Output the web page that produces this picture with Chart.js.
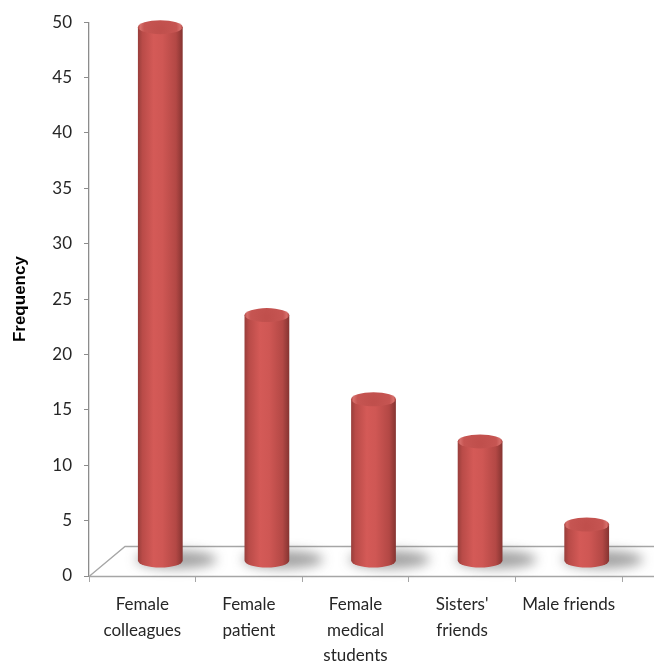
<!DOCTYPE html>
<html>
<head>
<meta charset="utf-8">
<script src="https://cdn.jsdelivr.net/npm/chart.js@4.4.1/dist/chart.umd.min.js"></script>
<style>
  html, body { margin: 0; padding: 0; background: #ffffff; }
  #wrap { width: 654px; height: 663px; position: relative; }
</style>
</head>
<body>
<div id="wrap"><canvas id="chart" width="654" height="663"></canvas></div>
<script>
// Categories and frequencies
const categories = [
  ["Female", "colleagues"],
  ["Female", "patient"],
  ["Female", "medical", "students"],
  ["Sisters'", "friends"],
  ["Male friends"]
];
const frequency = [48.2, 22.2, 14.6, 10.8, 3.3];

// Value axis
const yMin = 0;
const yMax = 50;
const yStep = 5;
const yTitle = "Frequency";

// Oblique depth of the 3D floor (back edge offset from front edge)
const DEPTH_DX = 36;
const DEPTH_DY = -30;

// Floor of the 3D plot, drawn behind the cylinders
const floorPlugin = {
  id: 'floor',
  beforeDatasetsDraw(chart) {
    const ctx = chart.ctx;
    const a = chart.chartArea;
    const x0 = a.left, y0 = a.bottom;
    const xr = chart.width;
    ctx.save();
    ctx.strokeStyle = '#a6a6a6';
    ctx.lineWidth = 1.3;
    ctx.beginPath();
    ctx.moveTo(x0, y0 + 0.5);
    ctx.lineTo(x0 + DEPTH_DX, y0 + DEPTH_DY + 0.5);
    ctx.lineTo(xr, y0 + DEPTH_DY + 0.5);
    ctx.moveTo(x0, y0 + 0.5);
    ctx.lineTo(xr, y0 + 0.5);
    ctx.stroke();
    ctx.restore();
  }
};

// Cylinders drawn from each bar element's position
const cylinderPlugin = {
  id: 'cylinders',
  afterDatasetsDraw(chart) {
    const ctx = chart.ctx;
    const meta = chart.getDatasetMeta(0);
    const dx = DEPTH_DX / 2, dy = DEPTH_DY / 2;
    meta.data.forEach((el) => {
      const cx = el.x + dx;
      const top = el.y + dy;
      const base = el.base + dy;
      const rx = el.width / 2;
      const ry = 7;

      // soft shadow on the floor
      ctx.save();
      ctx.filter = 'blur(6px)';
      ctx.fillStyle = 'rgba(70,70,70,0.5)';
      ctx.beginPath();
      ctx.ellipse(cx + 16, base - 1, rx + 18, ry + 2, 0, 0, Math.PI * 2);
      ctx.fill();
      ctx.restore();

      // body
      const g = ctx.createLinearGradient(cx - rx, 0, cx + rx, 0);
      g.addColorStop(0.00, '#983e3b');
      g.addColorStop(0.10, '#b94b48');
      g.addColorStop(0.35, '#d45a57');
      g.addColorStop(0.55, '#cf5754');
      g.addColorStop(0.85, '#b34845');
      g.addColorStop(1.00, '#853431');
      ctx.save();
      ctx.fillStyle = g;
      ctx.beginPath();
      ctx.moveTo(cx - rx, top);
      ctx.lineTo(cx - rx, base);
      ctx.ellipse(cx, base, rx, ry, 0, Math.PI, 0, true);
      ctx.lineTo(cx + rx, top);
      ctx.closePath();
      ctx.fill();

      // top cap
      const tg = ctx.createRadialGradient(cx, top + 2, 2, cx, top, rx);
      tg.addColorStop(0.0, '#c04f4c');
      tg.addColorStop(0.7, '#c65552');
      tg.addColorStop(0.88, '#d66e6a');
      tg.addColorStop(1.0, '#b34845');
      ctx.fillStyle = tg;
      ctx.beginPath();
      ctx.ellipse(cx, top, rx, ry, 0, 0, Math.PI * 2);
      ctx.fill();
      ctx.restore();
    });
  }
};

new Chart(document.getElementById('chart'), {
  type: 'bar',
  data: {
    labels: categories,
    datasets: [{
      label: yTitle,
      data: frequency,
      backgroundColor: 'rgba(0,0,0,0)',
      borderWidth: 0,
      categoryPercentage: 1.0,
      barPercentage: 0.42
    }]
  },
  options: {
    responsive: false,
    animation: false,
    layout: { padding: { top: 22, right: 32, left: 0, bottom: 0 } },
    plugins: {
      legend: { display: false },
      tooltip: { enabled: false }
    },
    scales: {
      x: {
        offset: true,
        grid: {
          offset: true,
          drawOnChartArea: false,
          drawTicks: true,
          tickLength: 6,
          color: '#a6a6a6'
        },
        border: { display: false },
        ticks: {
          color: '#262626',
          font: { family: 'Lato', size: 17, lineHeight: 1.5 },
          padding: 10,
          maxRotation: 0,
          autoSkip: false
        },
        afterFit(scale) { scale.height = 87; }
      },
      y: {
        min: yMin,
        max: yMax,
        grid: {
          drawOnChartArea: false,
          drawTicks: true,
          tickLength: 5,
          color: '#8c8c8c'
        },
        border: { display: true, color: '#8c8c8c', width: 1.3 },
        ticks: {
          stepSize: yStep,
          color: '#262626',
          font: { family: 'Lato', size: 17 },
          padding: 12
        },
        title: {
          display: true,
          text: yTitle,
          color: '#000000',
          font: { family: 'Liberation Sans', size: 17, weight: 'bold' },
          padding: { top: 10, bottom: 0 }
        },
        afterFit(scale) { scale.width = 89; }
      }
    }
  },
  plugins: [floorPlugin, cylinderPlugin]
});
</script>
</body>
</html>
